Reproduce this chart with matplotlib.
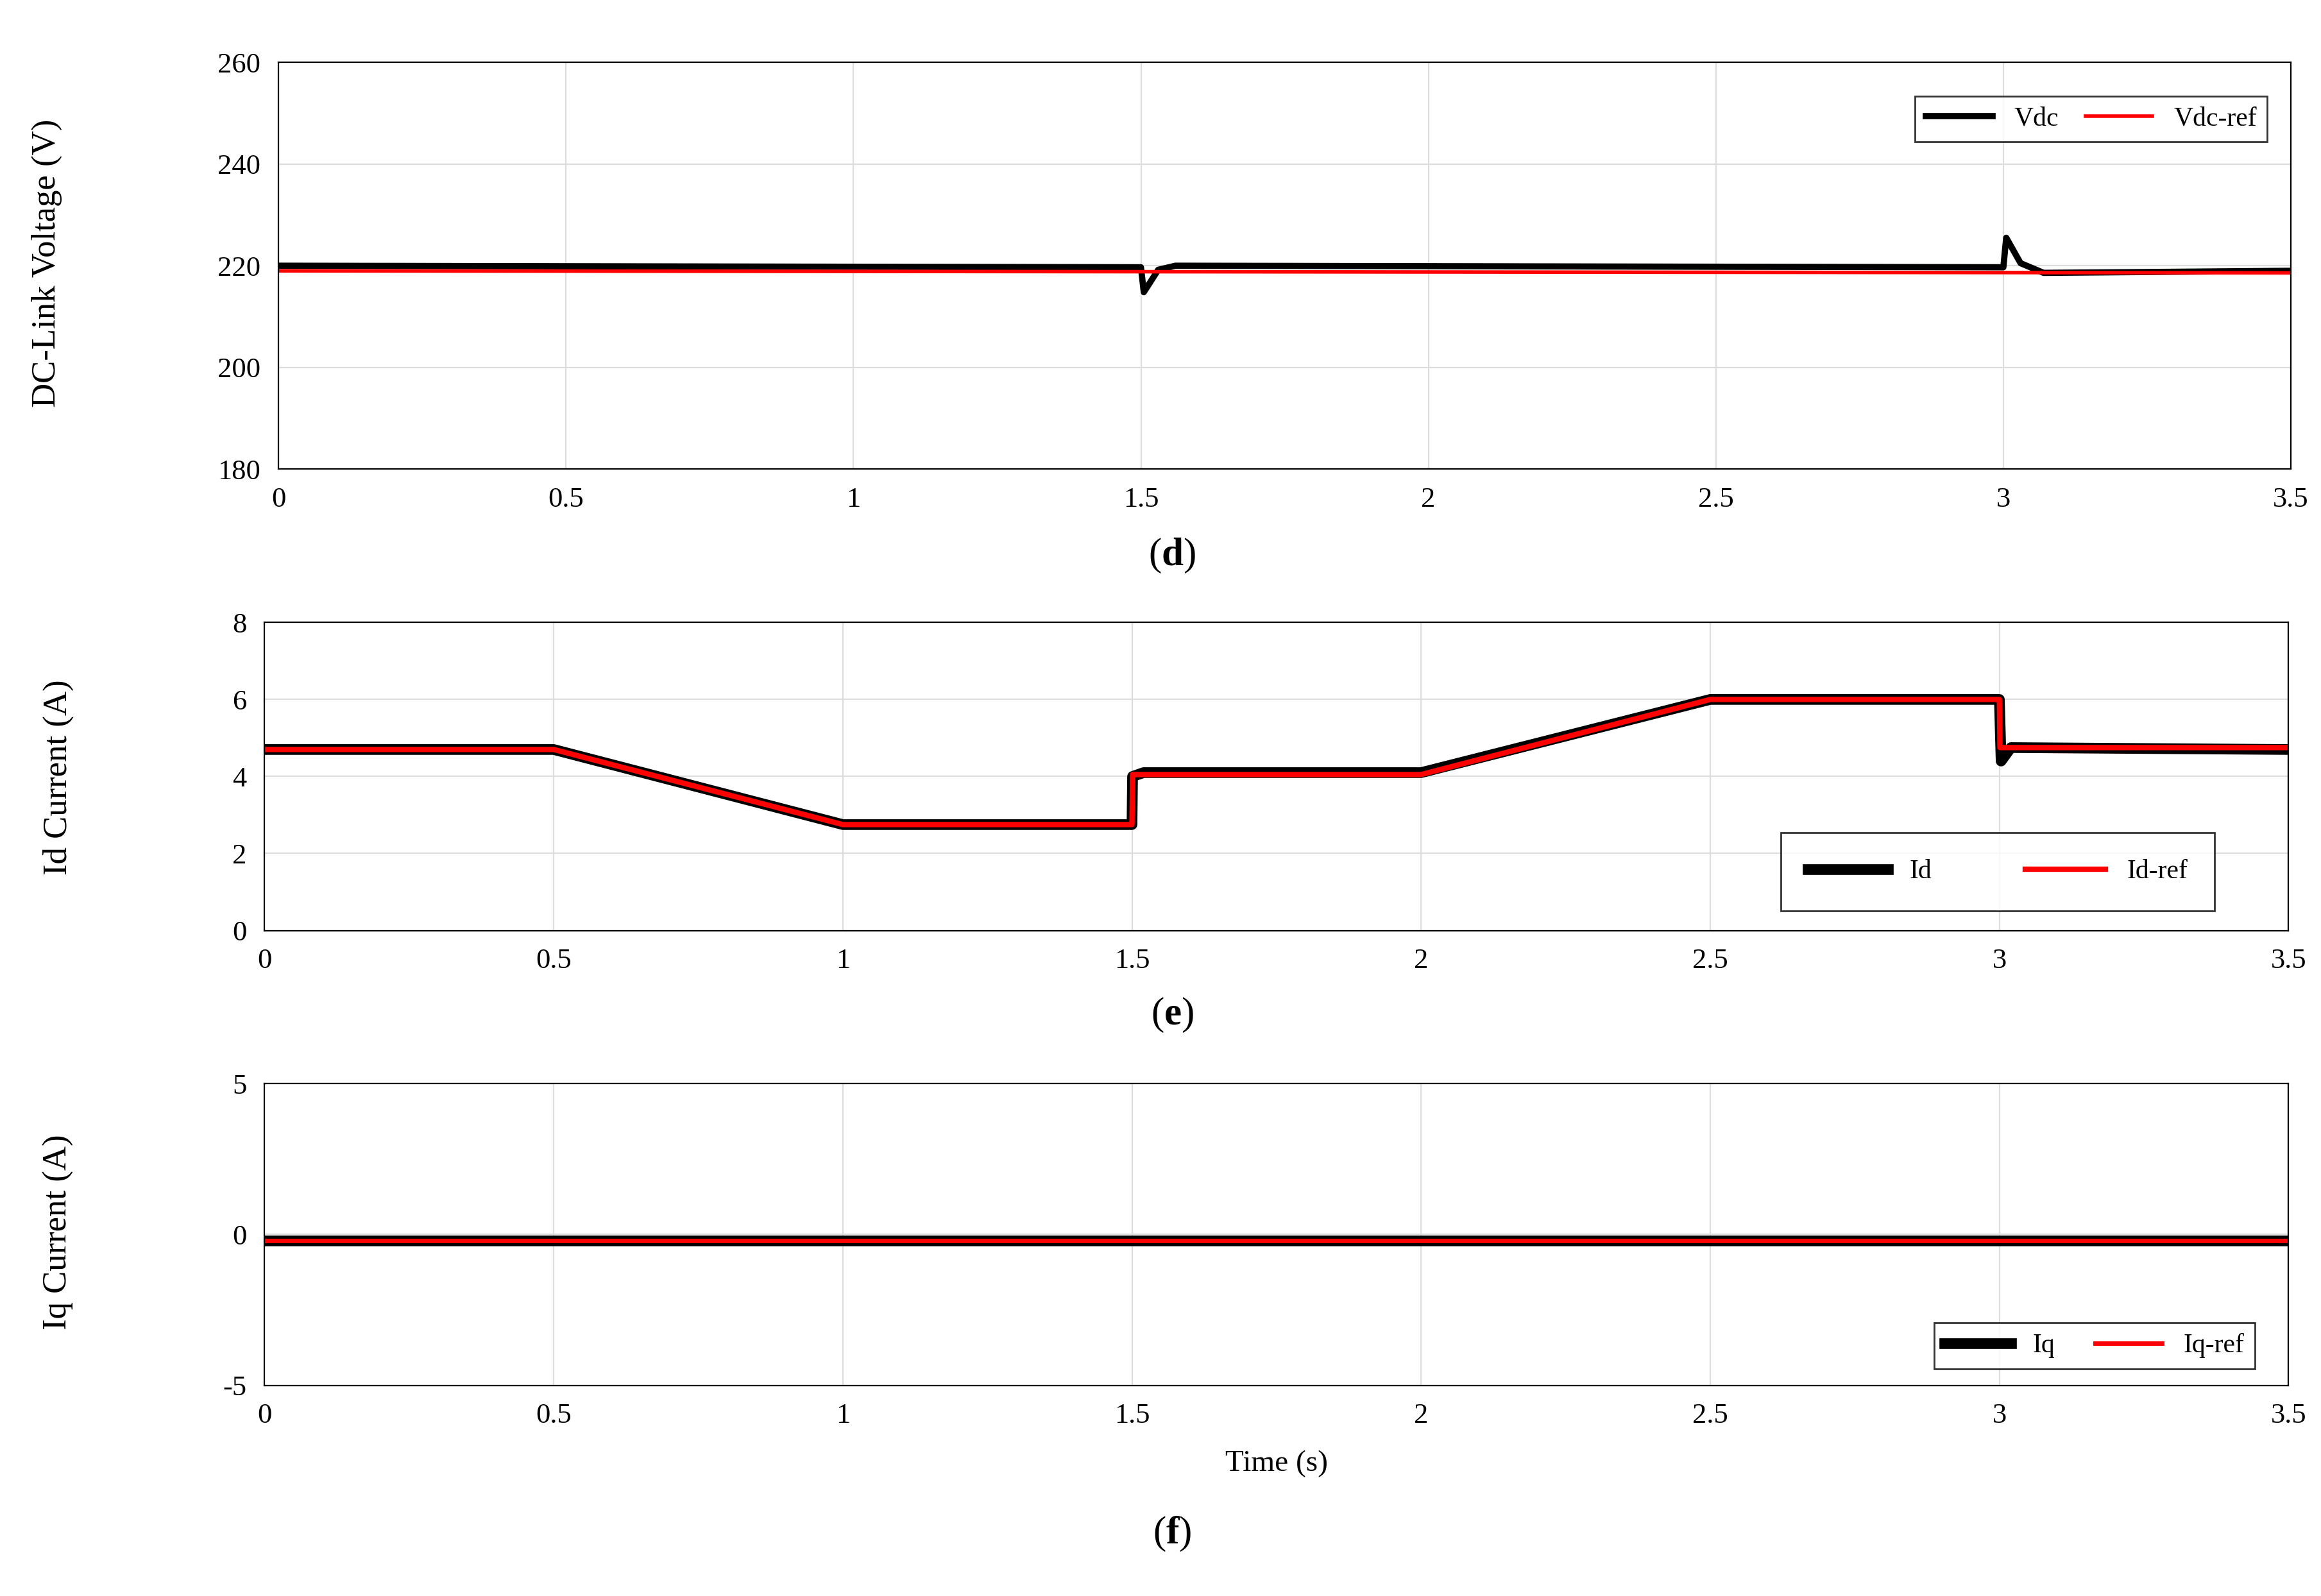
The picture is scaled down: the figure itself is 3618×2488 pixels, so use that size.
import matplotlib
matplotlib.use("Agg")
import matplotlib.pyplot as plt

plt.rcParams['font.family'] = ['Liberation Serif', 'DejaVu Serif']
plt.rcParams['mathtext.fontset'] = 'custom'
plt.rcParams['mathtext.rm'] = 'Liberation Serif'
plt.rcParams['mathtext.bf'] = 'Liberation Serif:bold'
plt.rcParams['axes.unicode_minus'] = False

# Vdc data (keypoints)
t_vdc = [0, 1.5, 1.505, 1.53, 1.56, 3.0, 3.005, 3.03, 3.07, 3.5]
vdc = [220, 219.7, 214.8, 219.2, 220, 219.7, 225.5, 220.5, 218.6, 219.0]
t_vdc_ref = [0, 3.5]
vdc_ref = [219.0, 218.6]

# Id data
t_id = [0, 0.5, 1.0, 1.5, 1.501, 1.52, 2.0, 2.5, 3.0, 3.003, 3.02, 3.5]
id_meas = [4.7, 4.7, 2.75, 2.75, 4.0, 4.1, 4.1, 6.0, 6.0, 4.4, 4.75, 4.7]
t_id_ref = [0, 0.5, 1.0, 1.5, 1.501, 2.0, 2.5, 3.0, 3.001, 3.5]
id_ref = [4.7, 4.7, 2.75, 2.75, 4.05, 4.05, 6.0, 6.0, 4.75, 4.75]

# Iq data
t_iq = [0, 3.5]
iq_meas = [-0.2, -0.2]
iq_ref = [-0.2, -0.2]

xticks = [0, 0.5, 1, 1.5, 2, 2.5, 3, 3.5]
xticklabels = ['0', '0.5', '1', '1.5', '2', '2.5', '3', '3.5']

fig = plt.figure(figsize=(18.09, 12.44), dpi=200)
ax1 = fig.add_axes([0.120, 0.706, 0.867, 0.255])
ax2 = fig.add_axes([0.114, 0.417, 0.872, 0.193])
ax3 = fig.add_axes([0.114, 0.132, 0.872, 0.189])

def style(ax, ylim, yticks):
    ax.set_xlim(0, 3.5)
    ax.set_ylim(*ylim)
    ax.set_xticks(xticks)
    ax.set_xticklabels(xticklabels)
    ax.set_yticks(yticks)
    ax.grid(True, color='#dddddd', linewidth=0.8)
    ax.tick_params(labelsize=16, direction='in', length=0, pad=10)
    for s in ax.spines.values():
        s.set_linewidth(0.8)

ax1.plot(t_vdc, vdc, color='black', lw=3.5)
ax1.plot(t_vdc_ref, vdc_ref, color='red', lw=2)
style(ax1, (180, 260), [180, 200, 220, 240, 260])
ax1.legend(['Vdc', 'Vdc-ref'], ncol=2, loc='upper right', fontsize=15,
           fancybox=False, edgecolor='black', handlelength=2.5,
           bbox_to_anchor=(0.995, 0.95), columnspacing=1.0)
fig.text(0.02, 0.835, 'DC-Link Voltage (V)', rotation=90, fontsize=19, va='center', ha='center')

ax2.plot(t_id, id_meas, color='black', lw=6)
ax2.plot(t_id_ref, id_ref, color='red', lw=3)
style(ax2, (0, 8), [0, 2, 4, 6, 8])
ax2.legend(['Id', 'Id-ref'], ncol=2, loc='lower right', fontsize=15,
           fancybox=False, edgecolor='black', handlelength=3,
           bbox_to_anchor=(0.97, 0.02), columnspacing=3.5,
           borderpad=1.0)
fig.text(0.025, 0.513, 'Id Current (A)', rotation=90, fontsize=19, va='center', ha='center')

ax3.plot(t_iq, iq_meas, color='black', lw=6)
ax3.plot(t_iq, iq_ref, color='red', lw=2.5)
style(ax3, (-5, 5), [-5, 0, 5])
ax3.legend(['Iq', 'Iq-ref'], ncol=2, loc='lower right', fontsize=15,
           fancybox=False, edgecolor='black', handlelength=2.5,
           bbox_to_anchor=(0.99, 0.01), columnspacing=1.5)
ax3.set_xlabel('Time (s)', fontsize=17, labelpad=12)
fig.text(0.025, 0.228, 'Iq Current (A)', rotation=90, fontsize=19, va='center', ha='center')

for lab, y in [('d', 0.64), ('e', 0.352), ('f', 0.027)]:
    fig.text(0.505, y, r'($\mathbf{%s}$)' % lab, fontsize=22, ha='center', va='bottom')

fig.savefig('out.png', dpi=200)
